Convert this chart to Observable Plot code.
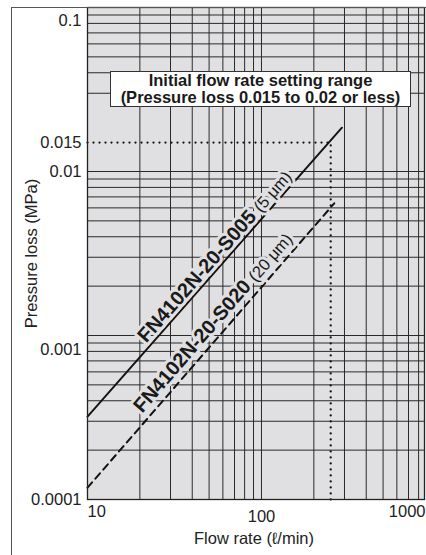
<!DOCTYPE html>
<html><head><meta charset="utf-8">
<script src="https://cdn.jsdelivr.net/npm/d3@7"></script>
<script src="https://cdn.jsdelivr.net/npm/@observablehq/plot@0.6"></script>
<style>
html,body{margin:0;padding:0;background:#fff;}
#wrap{position:relative;width:426px;height:555px;overflow:hidden;font-family:"Liberation Sans",Arial,Helvetica,sans-serif;}
#border{position:absolute;left:11px;top:7px;width:430px;height:560px;border-left:1.3px solid #555;border-top:1.3px solid #555;box-sizing:border-box;pointer-events:none;}
#box{position:absolute;left:110px;top:71px;width:301px;height:36px;background:#fff;border:1.5px solid #333;box-sizing:border-box;text-align:center;font-weight:bold;font-size:16.5px;line-height:16.5px;padding-top:0px;color:#1a1a1a;}
svg{position:absolute;left:0;top:0;}
</style></head><body><div id="wrap"><div id="chart"></div><div id="border"></div><div id="box"></div></div>
<script>
// ---- data ----
const flowTicks = [10, 100, 250, 1000];
const flowTickLabels = ["10", "100", "250", "1000"];
const lossTicks = [0.1, 0.015, 0.01, 0.001, 0.0001];
const lossTickLabels = ["0.1", "0.015", "0.01", "0.001", "0.0001"];
const flowGrid = [20, 30, 40, 50, 60, 70, 80, 90, 100, 200, 300, 400, 500, 600, 700, 800];
const lossGrid = [0.0002, 0.0003, 0.0004, 0.0005, 0.0006, 0.0007, 0.0008, 0.0009, 0.001,
  0.002, 0.003, 0.004, 0.005, 0.006, 0.007, 0.008, 0.009, 0.01,
  0.03, 0.04, 0.05, 0.06, 0.07, 0.08, 0.09];
const seriesNames = ["FN4102N-20-S005", "FN4102N-20-S020"];
const seriesUnits = ["(5 μm)", "(20 μm)"];
const flowS005 = [10, 290];
const lossS005 = [0.00032, 0.0185];
const flowS020 = [10, 262];
const lossS020 = [0.000118, 0.0064];
const settingFlow = 250;
const settingLoss = 0.015;
const boxLines = ["Initial flow rate setting range", "(Pressure loss 0.015 to 0.02 or less)"];
const xLabel = "Flow rate (ℓ/min)";
const yLabel = "Pressure loss (MPa)";

// ---- layout ----
const W = 426, H = 555, mL = 87, mR = 2, mT = 7, mB = 56;
const xDomain = [10, 865], yDomain = [0.0001, 0.1];
const pxX = (W - mL - mR) / Math.log10(xDomain[1] / xDomain[0]);
const pxY = (H - mT - mB) / Math.log10(yDomain[1] / yDomain[0]);
const FS = 16.5;
const bg = "#e0e0e2";

const s005 = flowS005.map((x, i) => ({x, y: lossS005[i]}));
const s020 = flowS020.map((x, i) => ({x, y: lossS020[i]}));
const dotted = [{x: flowTicks[0], y: settingLoss}, {x: settingFlow, y: settingLoss}, {x: settingFlow, y: yDomain[0]}];

function angle(xs, ys) {
  const k = Math.log10(ys[1] / ys[0]) / Math.log10(xs[1] / xs[0]);
  return Math.atan(k * pxY / pxX) * 180 / Math.PI;
}
function mid(xs, ys) {
  return {x: Math.sqrt(xs[0] * xs[1]), y: Math.sqrt(ys[0] * ys[1])};
}
const labels = [
  {...mid(flowS005, lossS005), t: seriesNames[0] + " " + seriesUnits[0], r: -angle(flowS005, lossS005)},
  {...mid(flowS020, lossS020), t: seriesNames[1] + " " + seriesUnits[1], r: -angle(flowS020, lossS020)}
];
const fmtY = d => lossTickLabels[lossTicks.indexOf(d)];
const fmtX = d => flowTickLabels[flowTicks.indexOf(d)];

const plot = Plot.plot({
  width: W, height: H,
  marginLeft: mL, marginRight: mR, marginTop: mT, marginBottom: mB,
  style: {fontFamily: '"Liberation Sans", Arial, Helvetica, sans-serif', fontSize: FS + "px", color: "#222", background: "transparent"},
  x: {type: "log", domain: xDomain},
  y: {type: "log", domain: yDomain},
  marks: [
    Plot.frame({fill: bg, stroke: null}),
    Plot.ruleX(flowGrid, {stroke: "#2a2a2a", strokeWidth: 1}),
    Plot.ruleY(lossGrid, {stroke: "#2a2a2a", strokeWidth: 1}),
    Plot.line(dotted, {x: "x", y: "y", stroke: "#111", strokeWidth: 2.3, strokeDasharray: "0,6", strokeLinecap: "round"}),
    Plot.line(s005, {x: "x", y: "y", stroke: "#111", strokeWidth: 1.9}),
    Plot.line(s020, {x: "x", y: "y", stroke: "#111", strokeWidth: 2, strokeDasharray: "7,5"}),
    Plot.text([labels[0]], {x: "x", y: "y", text: "t", rotate: labels[0].r, dx: 0, dy: -16, fontSize: 20, fontWeight: "bold", fill: "#1a1a1a", stroke: bg, strokeWidth: 6}),
    Plot.text([labels[1]], {x: "x", y: "y", text: "t", rotate: labels[1].r, dx: 2, dy: -23, fontSize: 20, fontWeight: "bold", fill: "#1a1a1a", stroke: bg, strokeWidth: 6}),
    Plot.frame({stroke: "#222", strokeWidth: 1.3}),
    Plot.axisY([0.015, 0.01, 0.0001], {tickSize: 0, tickPadding: 6, tickFormat: fmtY, label: null}),
    Plot.axisY([0.1], {tickSize: 0, tickPadding: 6, tickFormat: fmtY, label: null, dy: 13}),
    Plot.axisY([0.001], {tickSize: 0, tickPadding: 6, tickFormat: fmtY, label: null, dy: 14}),
    Plot.axisX([100, 250], {tickSize: 0, tickPadding: 11, tickFormat: fmtX, label: null}),
    Plot.text([fmtX(10)], {frameAnchor: "bottom-left", textAnchor: "start", dy: 17}),
    Plot.text([fmtX(1000)], {frameAnchor: "bottom-right", textAnchor: "end", dy: 17, dx: 1}),
    Plot.text([xLabel], {frameAnchor: "bottom", dy: 44, dx: -2}),
    Plot.text([yLabel], {frameAnchor: "left", textAnchor: "middle", rotate: -90, dx: -56})
  ]
});
document.getElementById("chart").appendChild(plot);

// split label text into bold name + regular unit
plot.querySelectorAll("text").forEach(t => {
  for (let i = 0; i < seriesNames.length; i++) {
    if (t.textContent === seriesNames[i] + " " + seriesUnits[i]) {
      t.textContent = "";
      const a = document.createElementNS("http://www.w3.org/2000/svg", "tspan");
      a.textContent = seriesNames[i] + " ";
      const b = document.createElementNS("http://www.w3.org/2000/svg", "tspan");
      b.textContent = seriesUnits[i];
      b.setAttribute("font-weight", "normal");
      b.setAttribute("font-size", "16.5");
      t.appendChild(a); t.appendChild(b);
    }
  }
});

const box = document.getElementById("box");
box.innerHTML = boxLines.map(s => `<div>${s}</div>`).join("");
</script>
</body></html>
